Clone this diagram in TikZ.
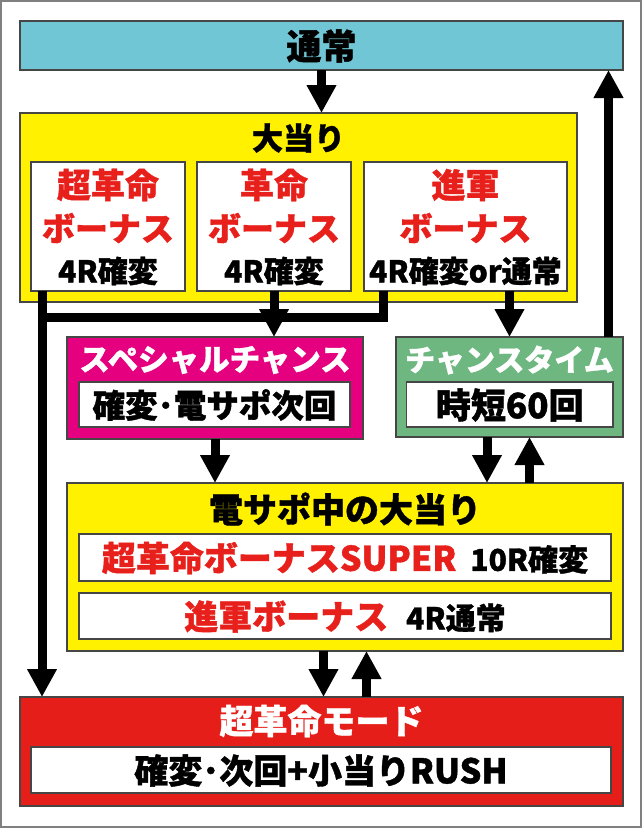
\documentclass[tikz,border=0pt]{standalone}
\usepackage{fontspec}
\setmainfont{Noto Sans CJK JP}[BoldFont={Noto Sans CJK JP Black},BoldFeatures={FakeBold=1.2}]
\usetikzlibrary{arrows.meta}
\definecolor{cyanbox}{RGB}{112,198,212}
\definecolor{yelbox}{RGB}{255,241,0}
\definecolor{magbox}{RGB}{228,0,127}
\definecolor{grnbox}{RGB}{110,183,128}
\definecolor{redbox}{RGB}{230,30,25}
\definecolor{redtxt}{RGB}{232,32,28}
\definecolor{edge}{RGB}{70,70,70}
\newcommand{\fs}[1]{\fontsize{#1}{#1}\selectfont\bfseries}
\begin{document}
\begin{tikzpicture}[x=1pt,y=-1pt,
  box/.style={draw=edge,line width=1.2pt,inner sep=0pt,outer sep=0pt},
  txt/.style={inner sep=0pt,anchor=center},
  arr/.style={line width=9pt,-{Triangle[width=28pt,length=28pt]}},
  thickline/.style={line width=9pt,line join=miter}]
\useasboundingbox (0,0) rectangle (642,828);
\draw[gray,line width=2pt] (1,1) rectangle (641,827);
% boxes
\node[box,fill=cyanbox,minimum width=603pt,minimum height=49pt] (tsujo) at (321.5,45.5) {};
\node[txt] (tsujoT) at (321.5,46) {\fs{35}通常};
\node[box,fill=yelbox,minimum width=557pt,minimum height=189pt] (ooatari) at (298.5,207.5) {};
\node[txt] (ooatariT) at (298.5,138) {\fs{31}大当り};
\node[box,fill=white,minimum width=154pt,minimum height=129pt] (b1) at (108,226.5) {};
\node[box,fill=white,minimum width=154pt,minimum height=129pt] (b2) at (274,226.5) {};
\node[box,fill=white,minimum width=203pt,minimum height=129pt] (b3) at (465.5,226.5) {};
\node[txt,text=redtxt] (b1a) at (108,185) {\fs{34}超革命};
\node[txt,text=redtxt] (b1b) at (108,228) {\fs{33}ボーナス};
\node[txt] (b1c) at (108,271) {\fs{30}4R確変};
\node[txt,text=redtxt] (b2a) at (274,185) {\fs{34}革命};
\node[txt,text=redtxt] (b2b) at (274,228) {\fs{33}ボーナス};
\node[txt] (b2c) at (274,271) {\fs{30}4R確変};
\node[txt,text=redtxt] (b3a) at (465.5,185) {\fs{34}進軍};
\node[txt,text=redtxt] (b3b) at (465.5,228) {\fs{33}ボーナス};
\node[txt] (b3c) at (465.5,271) {\fs{30}4R確変or通常};
\node[box,fill=magbox,minimum width=296pt,minimum height=102pt] (sp) at (215,388) {};
\node[txt,text=white] (spT) at (215,360) {\fs{30.5}スペシャルチャンス};
\node[box,fill=white,minimum width=271pt,minimum height=45pt] (spI) at (214.5,404.5) {};
\node[txt] (spIT) at (214.5,405) {\fs{32.5}確変･電サポ次回};
\node[box,fill=grnbox,minimum width=227pt,minimum height=100pt] (ct) at (509.5,387) {};
\node[txt,text=white] (ctT) at (509.5,360) {\fs{30}チャンスタイム};
\node[box,fill=white,minimum width=206.5pt,minimum height=45pt] (ctI) at (509.75,404.5) {};
\node[txt] (ctIT) at (509.75,405) {\fs{35}時短60回};
\node[box,fill=yelbox,minimum width=556pt,minimum height=168pt] (ds) at (345,567) {};
\node[txt] (dsT) at (345,509) {\fs{34}電サポ中の大当り};
\node[box,fill=white,minimum width=532pt,minimum height=47pt] (ds1) at (345,557.5) {};
\node[txt] (ds1T) at (345,558) {\fs{34}\textcolor{redtxt}{超革命ボーナスSUPER}\hspace{14pt}\fs{30}10R確変};
\node[box,fill=white,minimum width=532pt,minimum height=46pt] (ds2) at (345,616) {};
\node[txt] (ds2T) at (345,616.5) {\fs{34}\textcolor{redtxt}{進軍ボーナス}\hspace{18pt}\fs{30}4R通常};
\node[box,fill=redbox,minimum width=603pt,minimum height=109pt] (mode) at (321.5,751.5) {};
\node[txt,text=white] (modeT) at (321.5,721) {\fs{34}超革命モード};
\node[box,fill=white,minimum width=580pt,minimum height=46pt] (modeI) at (321,770) {};
\node[txt] (modeIT) at (321,770.5) {\fs{34}確変･次回+小当りRUSH};
% connectors
\draw[arr] (tsujo.south) -- (tsujo.south |- ooatari.north);
\draw[arr] ([xshift=-14.5pt]ct.north east) -- ([xshift=-14.5pt]ct.north east |- tsujo.south);
\coordinate (jL) at (37.5,317);
\coordinate (jR) at (383.5,317);
\draw[thickline] ([xshift=19.5pt]b3.south west) -- (jR) -- (jL);
\draw[arr] ([xshift=11pt]b1.south west) -- ([xshift=11pt]b1.south west |- mode.north);
\draw[arr] (b2.south) -- (b2.south |- sp.north);
\draw[arr] (ct.north |- b3.south) -- (ct.north);
\draw[arr] (sp.south) -- (sp.south |- ds.north);
\draw[arr] ([xshift=-22.5pt]ct.south) -- ([xshift=-22.5pt]ct.south |- ds.north);
\draw[arr] ([xshift=20pt]ct.south |- ds.north) -- ([xshift=20pt]ct.south);
\draw[arr] ([xshift=-21.5pt]ds.south) -- ([xshift=-21.5pt]ds.south |- mode.north);
\draw[arr] ([xshift=21.5pt]ds.south |- mode.north) -- ([xshift=21.5pt]ds.south);
\end{tikzpicture}
\end{document}
